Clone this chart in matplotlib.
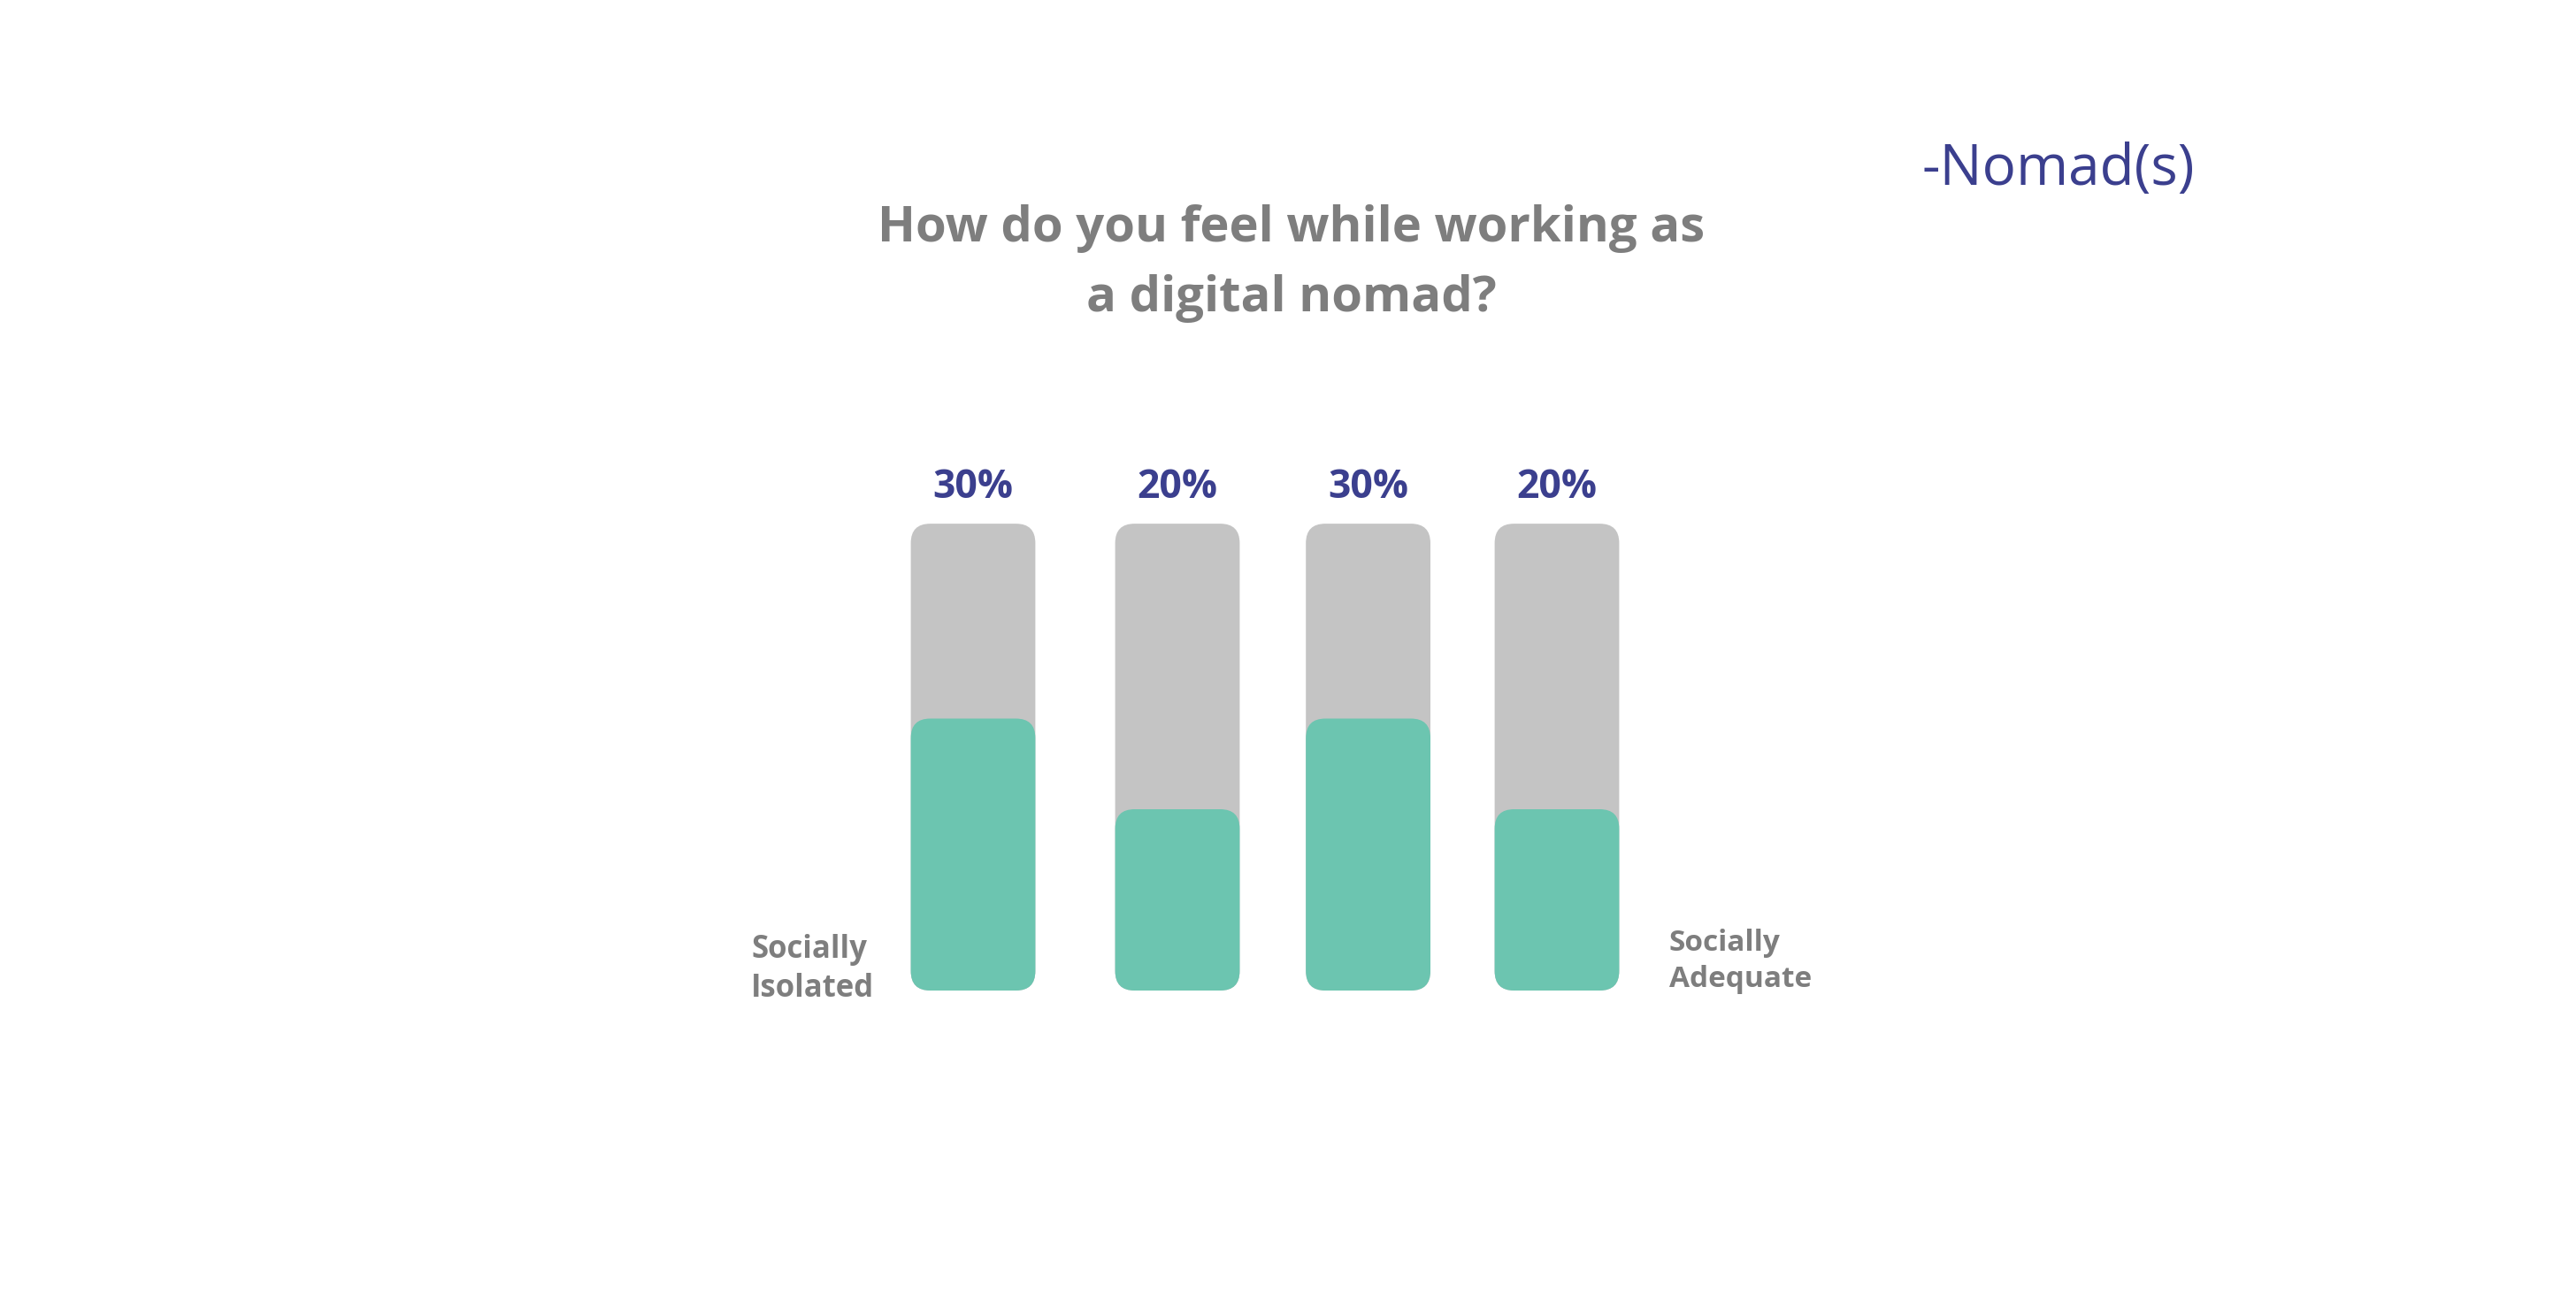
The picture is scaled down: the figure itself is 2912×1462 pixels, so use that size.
import matplotlib
matplotlib.use("Agg")
import matplotlib.pyplot as plt
from matplotlib.patches import FancyBboxPatch
import numpy as np

# ---- data ----
categories = ["Q1", "Q2", "Q3", "Q4"]
values = [30, 20, 30, 20]
value_labels = ["30%", "20%", "30%", "20%"]
track_max = 51.5
title = "How do you feel while working as\na digital nomad?"
left_label = "Socially\nIsolated"
right_label = "Socially\nAdequate"
brand = "-Nomad(s)"

# ---- style ----
W, H = 2912, 1462
DPI = 100
GRAY = "#C4C4C4"
GREEN = "#6CC5B0"
NAVY = "#3B3F8E"
TXT = "#7E7E7E"
FONT = ["Open Sans", "DejaVu Sans"]

fig = plt.figure(figsize=(W / DPI, H / DPI), dpi=DPI)
fig.patch.set_facecolor("white")

# axes in pixel coords
ax_left, ax_right = 990, 1870
ax_bottom, ax_top = 1120, 505
ax = fig.add_axes([ax_left / W, 1 - ax_bottom / H,
                   (ax_right - ax_left) / W, (ax_bottom - ax_top) / H])
ax.set_xlim(-0.5, 3.5)
ax.set_ylim(0, 60)
ax.axis("off")

slots = np.array([0.0, 1.05, 2.03, 3.0])  # layout slot positions
bw = 0.64
px_x = 4 / (ax_right - ax_left)
px_y = 60 / (ax_bottom - ax_top)
aspect = px_y / px_x
r_px = 22

def rbar(xc, h, color, z):
    p = FancyBboxPatch((xc - bw / 2, 0), bw, h,
                       boxstyle=f"round,pad=0,rounding_size={r_px * px_x}",
                       mutation_aspect=aspect, fc=color, ec="none", zorder=z)
    ax.add_patch(p)

for xi, v, lab in zip(slots, values, value_labels):
    rbar(xi, track_max, GRAY, 1)
    rbar(xi, v, GREEN, 2)
    ax.text(xi, track_max + 4.0, lab, ha="center", va="center",
            color=NAVY, fontsize=32, fontweight="bold", family=FONT)

def ftext(px, py, s, **kw):
    fig.text(px / W, 1 - py / H, s, **kw)

ftext(1460, 298, title, ha="center", va="center", color=TXT, fontsize=40.5,
      fontweight="bold", family=FONT, linespacing=1.55)
ftext(2327, 192, brand, ha="center", va="center", color=NAVY, fontsize=46,
      family=FONT)
ftext(849, 1096, left_label, ha="left", va="center", color=TXT, fontsize=25,
      fontweight="bold", family=FONT, linespacing=1.3)
ftext(1887, 1087, right_label, ha="left", va="center", color=TXT, fontsize=24,
      fontweight="bold", family=FONT, linespacing=1.35)

fig.savefig("out.png", dpi=DPI, facecolor="white")
